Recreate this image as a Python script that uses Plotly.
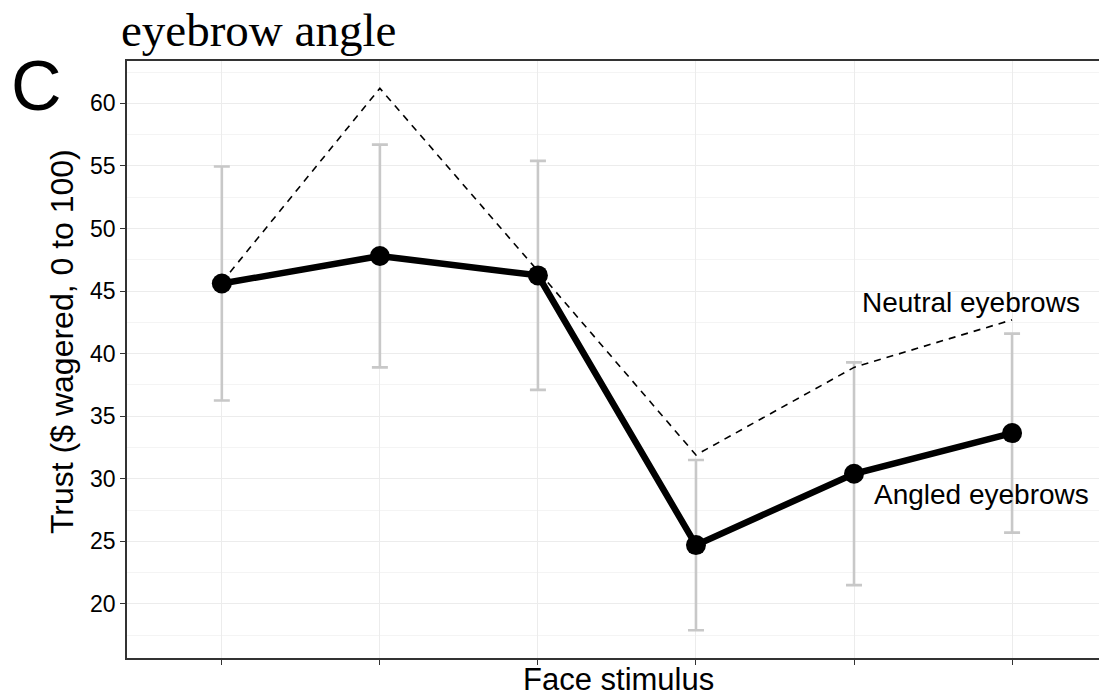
import plotly.graph_objects as go

# Face stimuli along the x axis (unlabelled positions 1..6)
stimulus = [1, 2, 3, 4, 5, 6]

# Mean trust ($ wagered) per stimulus
angled_mean = [45.6, 47.8, 46.25, 24.7, 30.4, 33.65]
angled_err = [9.35, 8.9, 9.15, 6.8, 8.9, 7.95]
neutral_mean = [45.7, 61.2, 46.6, 31.9, 38.9, 42.7]

y_ticks = [20, 25, 30, 35, 40, 45, 50, 55, 60]

W, H = 1099, 697
ML, MR, MT, MB = 127, 0, 61, 39


def px_x(p):
    return (p - ML) / (W - ML - MR)


def px_y(p):
    return (H - MB - p) / (H - MT - MB)


fig = go.Figure()

# Error bars around the angled-eyebrow means
fig.add_trace(go.Scatter(
    x=stimulus, y=angled_mean, mode="markers",
    marker=dict(size=1, color="rgba(0,0,0,0)"),
    error_y=dict(type="data", array=angled_err, symmetric=True,
                 color="#c8c8c8", thickness=2.6, width=8),
    hoverinfo="skip", showlegend=False,
))

# Neutral eyebrows: thin dashed line
fig.add_trace(go.Scatter(
    x=stimulus, y=neutral_mean, mode="lines",
    line=dict(color="black", width=1.6, dash="7px,6px"),
    showlegend=False,
))

# Angled eyebrows: thick solid line with points
fig.add_trace(go.Scatter(
    x=stimulus, y=angled_mean, mode="lines+markers",
    line=dict(color="black", width=6.5),
    marker=dict(color="black", size=20),
    showlegend=False,
))

fig.update_xaxes(
    range=[0.4, 6.55], tickvals=stimulus, ticktext=[""] * len(stimulus),
    showgrid=True, gridcolor="#ececec", gridwidth=1,
    showline=True, linecolor="#333333", linewidth=1.6, mirror=True,
    ticks="outside", ticklen=5, tickcolor="#333333", tickwidth=1.2,
    zeroline=False,
)
fig.update_yaxes(
    range=[15.68, 63.38], tickvals=y_ticks,
    tickfont=dict(family="Liberation Sans, Arial, sans-serif", size=23, color="black"),
    showgrid=True, gridcolor="#ececec", gridwidth=1,
    minor=dict(dtick=2.5, tick0=0, showgrid=True, gridcolor="#f4f4f4", gridwidth=1),
    showline=True, linecolor="#333333", linewidth=1.6,
    ticks="outside", ticklen=5, tickcolor="#333333", tickwidth=1.2,
    zeroline=False,
)

sans = "Liberation Sans, Arial, sans-serif"
annotations = [
    dict(text="eyebrow angle", x=px_x(119), y=px_y(30), xanchor="left", yanchor="middle",
         font=dict(family="Liberation Serif, Times New Roman, serif", size=47, color="black")),
    dict(text="C", x=px_x(36), y=px_y(86), xanchor="center", yanchor="middle",
         font=dict(family=sans, size=70, color="black")),
    dict(text="Trust ($ wagered, 0 to 100)", x=px_x(62), y=px_y(342), xanchor="center",
         yanchor="middle", textangle=-90, font=dict(family=sans, size=32, color="black")),
    dict(text="Face stimulus", x=px_x(618), y=px_y(679), xanchor="center", yanchor="middle",
         font=dict(family=sans, size=31, color="black")),
    dict(text="Neutral eyebrows", x=px_x(971), y=px_y(302), xanchor="center", yanchor="middle",
         font=dict(family=sans, size=28, color="black")),
    dict(text="Angled eyebrows", x=px_x(981), y=px_y(494), xanchor="center", yanchor="middle",
         font=dict(family=sans, size=28, color="black")),
]
for a in annotations:
    a.update(xref="paper", yref="paper", showarrow=False)

fig.update_layout(
    width=W, height=H,
    margin=dict(l=ML, r=MR, t=MT, b=MB, pad=0),
    paper_bgcolor="white", plot_bgcolor="white",
    annotations=annotations,
)

fig.write_html("out.html")
